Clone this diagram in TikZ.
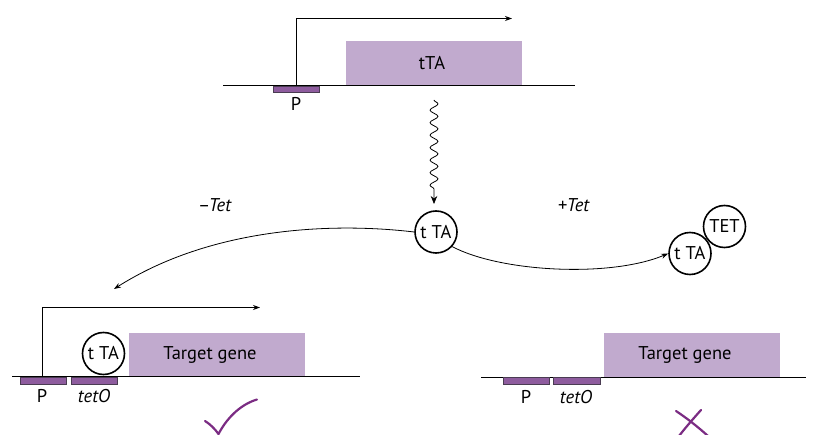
\documentclass[tikz,border=0pt]{standalone}
\usepackage{fontspec}
\setmainfont{PT Sans}
\usetikzlibrary{arrows.meta,decorations.pathmorphing}
\definecolor{genefill}{HTML}{C1AACE}
\definecolor{boxfill}{HTML}{8E5C9E}
\definecolor{boxedge}{HTML}{4A3C52}
\definecolor{markpurple}{HTML}{7B2C83}
\tikzset{
  dna/.style={line width=1pt, black},
  elem/.style={fill=boxfill, draw=boxedge, line width=0.8pt},
  gene/.style={fill=genefill, draw=none},
  prom/.style={line width=0.8pt, -{Stealth[length=7pt,width=5pt]}},
  tacirc/.style={circle, draw, line width=1.6pt, minimum size=42pt, inner sep=0pt, font=\fontsize{18.5}{19}\selectfont},
  lbl/.style={font=\fontsize{18.5}{19}\selectfont, inner sep=0pt},
  flow/.style={line width=0.8pt, -{Stealth[length=7pt,width=5pt]}},
  signmark/.style={draw=markpurple, line width=2.2pt, line cap=round}
}
\begin{document}
\begin{tikzpicture}[x=1pt,y=-1pt]
\useasboundingbox (0,0) rectangle (825,435);
% ---- top construct ----
\fill[gene] (346,41) rectangle (522,86);
\node[lbl] (tta) at (432,63.5) {tTA};
\draw[dna] (223,86) coordinate (topL) -- (575,86) coordinate (topR);
\draw[elem] (273,86) rectangle (319,92.5);
\node[lbl] (topP) at (296,103.5) {P};
\coordinate (topS) at (296.7,86);
\coordinate (topE) at (512,18.5);
\draw[prom] (topS) |- (topE);
% wavy arrow
\coordinate (wavS) at (434,100);
\node[tacirc] (mid) at (436,232) {t TA};
\draw[line width=0.8pt, -{Stealth[length=8pt,width=6.5pt]},
      decorate, decoration={snake, segment length=12.5pt, amplitude=4pt, post length=9pt}]
  (wavS) -- (434,204);
% labels
\node[lbl] (minus) at (215,205) {\textendash\kern-1.5pt\textit{Tet}};
\node[lbl] (plus) at (574,205) {+\kern-0.5pt\textit{Tet}};
% right complex
\node[tacirc] (tet) at (724.5,226.5) {TET};
\node[tacirc] (rta) at (690,253.5) {t TA};
% curved arrows
\coordinate (leftTip) at (114,289);
\draw[flow] (mid.west) .. controls (330,222) and (210,228) .. (leftTip);
\draw[flow] (mid.-42) .. controls (500,272) and (610,278) .. (rta.west);
% ---- bottom left ----
\fill[gene] (129,333) rectangle (304.5,377);
\node[lbl] (tg1) at (210,355) {Target gene};
\draw[dna] (12,377) -- (360,377);
\draw[elem] (20.5,377) rectangle (66.5,384);
\draw[elem] (71.5,377) rectangle (117.5,384);
\node[lbl] (p1) at (42,396) {P};
\node[lbl] (o1) at (94,396) {\textit{tetO}};
\coordinate (s1) at (42.7,377);
\coordinate (e1) at (260,307.5);
\draw[prom] (s1) |- (e1);
\node[tacirc] (ta1) at (103.5,353.5) {t TA};
% check mark
\draw[signmark] (205,421) .. controls (210,424) and (215,429) .. (218.5,434)
            .. controls (228,416) and (242,404) .. (257,399.5);
% ---- bottom right ----
\fill[gene] (603.5,333) rectangle (779.5,377);
\node[lbl] (tg2) at (685,355) {Target gene};
\draw[dna] (481,377.5) -- (806,377.5);
\draw[elem] (503,377.5) rectangle (549,384);
\draw[elem] (553.5,377.5) rectangle (600,384);
\node[lbl] (p2) at (526,397) {P};
\node[lbl] (o2) at (576,397) {\textit{tetO}};
% cross
\draw[signmark] (676,411) .. controls (688,419) and (698,427) .. (708,436);
\draw[signmark] (701,410) .. controls (693,419) and (686,427) .. (679,436);
\end{tikzpicture}
\end{document}
